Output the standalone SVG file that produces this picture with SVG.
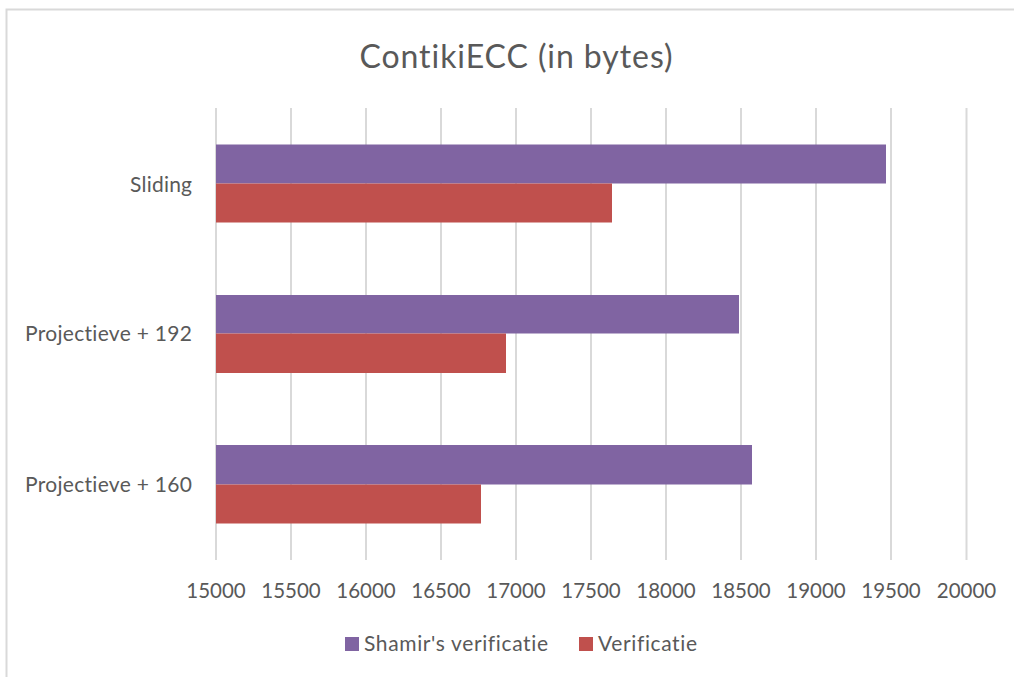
<svg xmlns="http://www.w3.org/2000/svg" width="1015" height="677" viewBox="0 0 1015 677">
<style>
.t{font-family:Lato,"Open Sans","Liberation Sans",sans-serif;fill:#595959;font-variant-ligatures:none;font-feature-settings:"liga" 0,"dlig" 0,"clig" 0}
.tick{font-size:20.5px;text-anchor:middle}
.cat{font-size:21px;text-anchor:end}
.leg{font-size:21px}
.grid{stroke:#D9D9D9;stroke-width:2}
.s1{fill:#8064A2}
.s2{fill:#C0504D}
</style>
<rect x="0" y="0" width="1015" height="677" fill="#FFFFFF"/>
<path d="M6.5 677 V9.5 H1014" fill="none" stroke="#D9D9D9" stroke-width="2"/>
<text class="t" x="516" y="68" font-size="32" text-anchor="middle" textLength="313" lengthAdjust="spacing">ContikiECC (in bytes)</text>
<g id="gridlines">
<line class="grid" x1="216" y1="108" x2="216" y2="560"/>
<line class="grid" x1="291" y1="108" x2="291" y2="560"/>
<line class="grid" x1="366" y1="108" x2="366" y2="560"/>
<line class="grid" x1="441" y1="108" x2="441" y2="560"/>
<line class="grid" x1="516" y1="108" x2="516" y2="560"/>
<line class="grid" x1="591" y1="108" x2="591" y2="560"/>
<line class="grid" x1="666" y1="108" x2="666" y2="560"/>
<line class="grid" x1="741" y1="108" x2="741" y2="560"/>
<line class="grid" x1="816" y1="108" x2="816" y2="560"/>
<line class="grid" x1="891" y1="108" x2="891" y2="560"/>
<line class="grid" x1="966.5" y1="108" x2="966.5" y2="560"/>
</g>
<g id="sliding">
<rect class="s1" x="216" y="144.5" width="670" height="39"/>
<rect class="s2" x="216" y="183.5" width="396" height="39"/>
<text class="t cat" x="192" y="192" textLength="62" lengthAdjust="spacing">Sliding</text>
</g>
<g id="proj192">
<rect class="s1" x="216" y="295" width="523" height="38.5"/>
<rect class="s2" x="216" y="333.5" width="290" height="39.5"/>
<text class="t cat" x="192" y="341" textLength="167" lengthAdjust="spacing">Projectieve + 192</text>
</g>
<g id="proj160">
<rect class="s1" x="216" y="445" width="536" height="39.5"/>
<rect class="s2" x="216" y="484.5" width="265" height="39"/>
<text class="t cat" x="192" y="491.5" textLength="167" lengthAdjust="spacing">Projectieve + 160</text>
</g>
<g id="axis">
<text class="t tick" x="216" y="598">15000</text>
<text class="t tick" x="291" y="598">15500</text>
<text class="t tick" x="366" y="598">16000</text>
<text class="t tick" x="441" y="598">16500</text>
<text class="t tick" x="516" y="598">17000</text>
<text class="t tick" x="591" y="598">17500</text>
<text class="t tick" x="666" y="598">18000</text>
<text class="t tick" x="741" y="598">18500</text>
<text class="t tick" x="816" y="598">19000</text>
<text class="t tick" x="891" y="598">19500</text>
<text class="t tick" x="966.5" y="598">20000</text>
</g>
<g id="legend">
<rect class="s1" x="345" y="637" width="14" height="14"/>
<text class="t leg" x="364" y="651" textLength="184" lengthAdjust="spacing">Shamir's verificatie</text>
<rect class="s2" x="579" y="637" width="14" height="14"/>
<text class="t leg" x="598" y="651" textLength="99" lengthAdjust="spacing">Verificatie</text>
</g>
</svg>
